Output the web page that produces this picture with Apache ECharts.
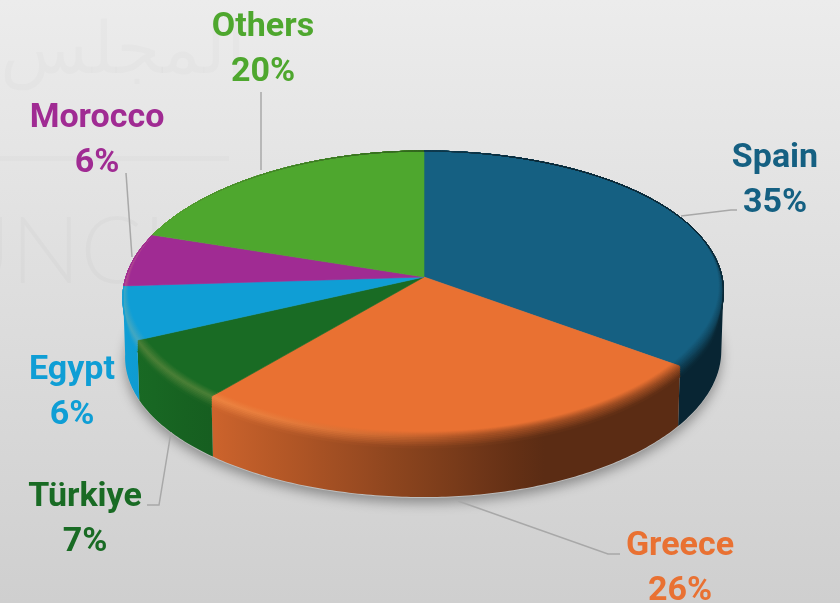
<!DOCTYPE html>
<html>
<head>
<meta charset="utf-8">
<style>html,body{margin:0;padding:0;background:#ddd}#c{width:840px;height:603px}</style>
<script src="https://cdn.jsdelivr.net/npm/echarts@6/dist/echarts.min.js"></script>
</head>
<body>
<div id="c"></div>
<script>
const categories = ['Spain', 'Greece', 'Türkiye', 'Egypt', 'Morocco', 'Others'];
const shares = [35, 26, 7, 6, 6, 20];
const colors = ['#156082', '#E97132', '#196B24', '#0F9ED5', '#A02B93', '#4EA72E'];
const labelCentres = [[775, 179], [680, 567], [85, 518], [72, 391], [97, 139], [263, 48]];
const leaders = [
  [[681, 216], [731, 210], [737, 210]],
  [[458, 501], [608, 554], [620, 554]],
  [[171, 432], [159, 505], [147, 505]],
  [],
  [[126, 173], [132, 257]],
  [[261, 92], [261, 170]]
];

// projection of the round pie on its tilted plane
const CX = 424, CY = 277, RX = 298, RY = 141, K = 0.119, SKEW = 7, DEPTH = 60;
const FONT = '700 34px Roboto, sans-serif';
const LINE = '#a8a8a8';

function rim(deg, r, h) {
  const a = deg * Math.PI / 180, X = Math.sin(a) * r, Y = Math.cos(a) * r, w = 1 + K * Y;
  return [CX + RX * X / w + SKEW * Y * Math.abs(X), CY - RY * Y / w + (h || 0)];
}
function base(deg) {
  const p = rim(deg, 1, DEPTH);
  return [CX + (p[0] - CX) * 0.993, p[1]];
}
const clamp = v => Math.max(0, Math.min(1, v));
const rgb = c => [1, 3, 5].map(i => parseInt(c.slice(i, i + 2), 16));
const mix = (a, b, t) => a.map((v, i) => v + (b[i] - v) * t);
const css = c => 'rgb(' + c.map(Math.round).join(',') + ')';
const shade = x => clamp((x - 130) / 410) * 0.61;
const wallAt = (top, x) => mix(top, [0, 0, 0], shade(x));
const hiAt = (top, x) => {
  const L = clamp((470 - x) / 260);
  return mix(mix(top, [0, 0, 0], shade(x) * 0.5), mix(top, [255, 200, 120], 0.22), L);
};
function hGradient(fn) {
  const stops = [];
  for (let i = 0; i <= 20; i++) stops.push({ offset: i / 20, color: css(fn(124 + i * 30)) });
  return new echarts.graphic.LinearGradient(124, 0, 724, 0, stops, true);
}
const LIMIT = Math.acos(-K) * 180 / Math.PI; // where the side wall meets the outline

function clipFront(a, b) {
  const lo = Math.max(a, LIMIT), hi = Math.min(b, 360 - LIMIT);
  return lo < hi ? [lo, hi] : null;
}
function steps(a, b) {
  const n = Math.max(2, Math.ceil((b - a) / 0.75)), out = [];
  for (let i = 0; i <= n; i++) out.push(a + (b - a) * i / n);
  return out;
}

function drawSlice(params, api) {
  const i = params.dataIndex, start = api.value(0) * 3.6, end = start + api.value(1) * 3.6;
  const top = rgb(colors[i]), children = [];
  // side wall
  const f = clipFront(start, end);
  if (f) {
    const degs = steps(f[0], f[1]);
    children.push({
      type: 'polygon', z2: 1, silent: true,
      shape: { points: degs.map(d => rim(d, 1, 0)).concat(degs.slice().reverse().map(base)) },
      style: { fill: hGradient(x => wallAt(top, x)) }
    });
  }
  // rounded edge between the face and the wall
  const pos = (d, t) => {
    const Y = Math.cos(d * Math.PI / 180);
    const inset = clamp((0.35 - Y) / 0.85) * 0.03, drop = clamp((-Y - K) / 0.25) * 11;
    return t < 0.55 ? rim(d, 1 - inset * (1 - t / 0.55), 0) : rim(d, 1, drop * (t - 0.55) / 0.45);
  };
  const LAYERS = 14, degs = steps(start, end);
  const face = [[CX, CY]].concat(degs.map(d => rim(d, 1, 0)));
  children.push({
    type: 'polygon', z2: 3, silent: true, shape: { points: face },
    style: { fill: colors[i], stroke: colors[i], lineWidth: 0.6 }
  });
  for (let n = 0; n < LAYERS; n++) {
    const t0 = n / LAYERS, t1 = (n + 1) / LAYERS, t = (t0 + t1) / 2;
    const pts = degs.map(d => pos(d, t0)).concat(degs.slice().reverse().map(d => pos(d, t1)));
    const paint = hGradient(x => t < 0.55 ? mix(top, hiAt(top, x), t / 0.55)
                                          : mix(hiAt(top, x), wallAt(top, x), (t - 0.55) / 0.45));
    children.push({
      type: 'polygon', z2: 4 + n, silent: true, shape: { points: pts },
      style: { fill: paint, stroke: paint, lineWidth: 0.8 }
    });
  }
  // leader line and label
  if (leaders[i].length) {
    children.push({
      type: 'polyline', z2: 30, silent: true, shape: { points: leaders[i] },
      style: { stroke: LINE, lineWidth: 1.5, fill: null }
    });
  }
  const [lx, ly] = labelCentres[i];
  children.push({ type: 'text', z2: 31, silent: true, style: {
    text: categories[i], x: lx, y: ly - 21, fill: colors[i], font: FONT, align: 'center', verticalAlign: 'middle' } });
  children.push({ type: 'text', z2: 31, silent: true, style: {
    text: api.value(1) + '%', x: lx, y: ly + 24, fill: colors[i], font: FONT, align: 'center', verticalAlign: 'middle' } });
  return { type: 'group', children };
}

function drawShadow() {
  const all = steps(0, 360).map(d => { const p = base(d); return [p[0], p[1] + 1]; });
  return {
    type: 'polygon', silent: true, shape: { points: all },
    style: { fill: '#bdbdbd', shadowBlur: 12, shadowColor: 'rgba(0,0,0,0.34)', shadowOffsetX: 0, shadowOffsetY: 5 }
  };
}

let running = 0;
const sliceRows = shares.map(v => { const row = [running, v]; running += v; return row; });

const chart = echarts.init(document.getElementById('c'), null, { renderer: 'canvas', width: 840, height: 603 });
chart.setOption({
  animation: false,
  backgroundColor: new echarts.graphic.LinearGradient(0, 0, 0, 1, [
    { offset: 0, color: '#ececec' }, { offset: 1, color: '#cfcfcf' }
  ]),
  graphic: [
    { type: 'text', silent: true, z: -1, left: 0, top: 18, style: { text: 'المجلس', font: '300 72px "DejaVu Sans", sans-serif', fill: 'rgba(0,0,0,0.014)' } },
    { type: 'rect', silent: true, z: -1, shape: { x: 0, y: 156, width: 229, height: 5 }, style: { fill: 'rgba(0,0,0,0.014)' } },
    { type: 'text', silent: true, z: -1, left: -56, top: 207, style: { text: 'UNCI', font: '300 92px Lato, sans-serif', fill: 'rgba(0,0,0,0.018)' } }
  ],
  series: [
    { type: 'custom', coordinateSystem: 'none', silent: true, z: 1, data: [[0]], renderItem: drawShadow },
    { type: 'custom', coordinateSystem: 'none', silent: true, z: 2, data: sliceRows, renderItem: drawSlice }
  ]
});
</script>
</body>
</html>
